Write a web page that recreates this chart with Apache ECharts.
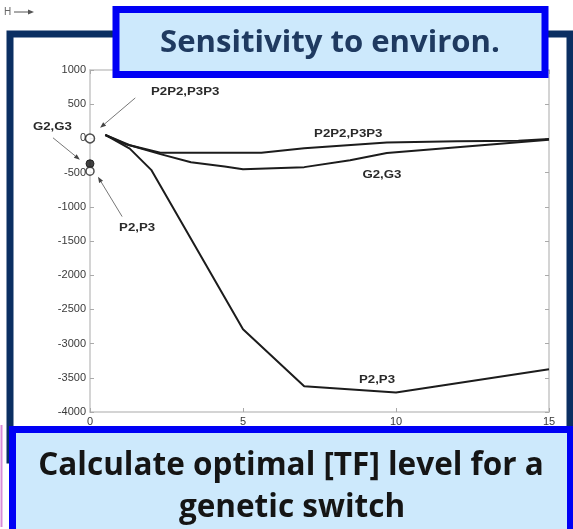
<!DOCTYPE html>
<html><head><meta charset="utf-8">
<script src="https://cdn.jsdelivr.net/npm/echarts@6/dist/echarts.min.js"></script>
<style>html,body{margin:0;padding:0;background:#fff}#c{width:573px;height:529px}</style>
</head><body><div id="c"></div>
<script>
// ---- data ----
const xTicks = [0, 5, 10, 15];
const yTicks = [1000, 500, 0, -500, -1000, -1500, -2000, -2500, -3000, -3500, -4000];

const p2p2X = [0.5, 1.2, 2.3, 5.6, 7, 9.7, 12, 14, 15];
const p2p2Y = [50, -90, -210, -210, -145, -60, -40, -35, -10];

const g2X = [0.5, 1.3, 2.3, 3.3, 4.4, 5, 7, 8.5, 9.7, 11.9, 15];
const g2Y = [50, -100, -230, -350, -410, -450, -420, -320, -215, -133, -20];

const p2X = [0.5, 1.3, 2, 5, 7, 10, 15];
const p2Y = [50, -150, -460, -2790, -3625, -3715, -3375];

const startNames = ['P2P2,P3P3', 'G2,G3', 'P2,P3'];
const startX = [0, 0, 0];
const startY = [0, -370, -480];

const curveLabels = ['P2P2,P3P3', 'G2,G3', 'P2,P3'];
const curveLabelX = [8.44, 9.54, 9.38];
const curveLabelY = [67, -531, -3530];

const noteLabels = ['P2P2,P3P3', 'G2,G3', 'P2,P3'];
const noteTextX = [3.11, -1.23, 1.54];
const noteTextY = [684, 169, -1303];
const noteFromX = [1.48, -1.21, 1.05];
const noteFromY = [592, 9, -1143];
const noteToX = [0.33, -0.33, 0.26];
const noteToY = [155, -312, -560];

const titleText = 'Sensitivity to environ.';
const footLine1 = 'Calculate optimal [TF] level for a';
const footLine2 = 'genetic switch';

// ---- helpers ----
function zip(xs, ys) { return xs.map((x, i) => [x, ys[i]]); }
function fitSize(text, weight, family, target) {
  const c = document.createElement('canvas').getContext('2d');
  c.font = weight + ' 100px ' + family;
  return 100 * target / c.measureText(text).width;
}

const chart = echarts.init(document.getElementById('c'), null, {renderer: 'canvas'});
const axisCol = '#c6c6c6';
const lblStyle = {color: '#3a3a3a', fontSize: 11, fontFamily: 'Liberation Sans, Arial, sans-serif'};
const lineCol = '#1c1c1c';

const option = {
  animation: false,
  backgroundColor: '#ffffff',
  grid: {left: 90, right: 24, top: 70, bottom: 117},
  xAxis: [
    {type: 'value', min: 0, max: 15, interval: 5, position: 'bottom',
     axisLine: {onZero: false, lineStyle: {color: axisCol, width: 1.5}},
     axisTick: {inside: true, length: 4, lineStyle: {color: '#aaa'}},
     axisLabel: Object.assign({margin: 4, formatter: v => xTicks.includes(v) ? String(v) : ''}, lblStyle),
     splitLine: {show: false}},
    {type: 'value', min: 0, max: 15, interval: 5, position: 'top',
     axisLine: {onZero: false, lineStyle: {color: axisCol, width: 1.5}},
     axisTick: {inside: true, length: 4, lineStyle: {color: '#aaa'}},
     axisLabel: {show: false}, splitLine: {show: false}}
  ],
  yAxis: [
    {type: 'value', min: -4000, max: 1000, interval: 500, position: 'left',
     axisLine: {onZero: false, show: true, lineStyle: {color: axisCol, width: 1.5}},
     axisTick: {show: true, inside: true, length: 4, lineStyle: {color: '#aaa'}},
     axisLabel: Object.assign({margin: 4, formatter: v => yTicks.includes(v) ? String(v) : ''}, lblStyle),
     splitLine: {show: false}},
    {type: 'value', min: -4000, max: 1000, interval: 500, position: 'right',
     axisLine: {onZero: false, show: true, lineStyle: {color: axisCol, width: 1.5}},
     axisTick: {show: true, inside: true, length: 4, lineStyle: {color: '#aaa'}},
     axisLabel: {show: false}, splitLine: {show: false}}
  ],
  series: [
    {name: 'P2P2,P3P3', type: 'line', data: zip(p2p2X, p2p2Y), showSymbol: false,
     lineStyle: {color: lineCol, width: 2}, xAxisIndex: 0, yAxisIndex: 0, clip: false},
    {name: 'G2,G3', type: 'line', data: zip(g2X, g2Y), showSymbol: false,
     lineStyle: {color: lineCol, width: 2}, xAxisIndex: 0, yAxisIndex: 0, clip: false},
    {name: 'P2,P3', type: 'line', data: zip(p2X, p2Y), showSymbol: false,
     lineStyle: {color: lineCol, width: 2}, xAxisIndex: 0, yAxisIndex: 0, clip: false},
    {name: 'start', type: 'scatter', clip: false, xAxisIndex: 0, yAxisIndex: 0, z: 5,
     data: [
       {value: [startX[0], startY[0]], symbolSize: 9, itemStyle: {color: '#fff', borderColor: '#222', borderWidth: 1.5}},
       {value: [startX[1], startY[1]], symbolSize: 8, itemStyle: {color: '#111', borderColor: '#111', borderWidth: 1}},
       {value: [startX[2], startY[2]], symbolSize: 8, itemStyle: {color: '#fff', borderColor: '#222', borderWidth: 1.5}}
     ]}
  ]
};
chart.setOption(option);

// ---- decorations & annotations ----
const px = (x, y) => chart.convertToPixel({xAxisIndex: 0, yAxisIndex: 0}, [x, y]);
const fam = "'Open Sans', 'DejaVu Sans', sans-serif";
const titleSize = fitSize(titleText, 'bold', fam, 340);
const footSize = fitSize(footLine1, 'bold', fam, 506);

const g = [];
// faint magenta line at left
g.push({type: 'line', shape: {x1: 1.5, y1: 425, x2: 1.5, y2: 527}, style: {stroke: '#d88ad8', lineWidth: 2}, z: 80});
// H ->
g.push({type: 'text', x: 4, y: 12, style: {text: 'H', fill: '#666', font: '10px Liberation Sans, Arial', verticalAlign: 'middle'}, z: 80});
g.push({type: 'line', shape: {x1: 14, y1: 12, x2: 30, y2: 12}, style: {stroke: '#555', lineWidth: 1}, z: 80});
g.push({type: 'polygon', shape: {points: [[34, 12], [28, 9.5], [28, 14.5]]}, style: {fill: '#555'}, z: 80});
// navy frame
g.push({type: 'rect', shape: {x: 10, y: 34, width: 560, height: 426}, style: {fill: 'none', stroke: '#0b2f62', lineWidth: 7}, z: 90});
// title box
g.push({type: 'rect', shape: {x: 116, y: 9.5, width: 429, height: 65}, style: {fill: '#cde9fc', stroke: '#0000f5', lineWidth: 7}, z: 100});
g.push({type: 'text', x: 330, y: 43, style: {text: titleText, fill: '#1f3a60', font: 'bold ' + titleSize.toFixed(1) + 'px ' + fam, align: 'center', verticalAlign: 'middle'}, z: 101});
// footer box
g.push({type: 'rect', shape: {x: 12.5, y: 429.5, width: 558, height: 110}, style: {fill: '#cde9fc', stroke: '#0000f5', lineWidth: 7}, z: 100});
g.push({type: 'text', x: 291, y: 466, style: {text: footLine1, fill: '#151515', font: 'bold ' + footSize.toFixed(1) + 'px ' + fam, align: 'center', verticalAlign: 'middle'}, z: 101});
g.push({type: 'text', x: 292, y: 508, style: {text: footLine2, fill: '#151515', font: 'bold ' + footSize.toFixed(1) + 'px ' + fam, align: 'center', verticalAlign: 'middle'}, z: 101});

const annFont = "bold 11.5px 'Liberation Sans', Arial, sans-serif";
curveLabels.forEach((t, i) => {
  const p = px(curveLabelX[i], curveLabelY[i]);
  g.push({type: 'text', x: p[0], y: p[1], scaleX: 1.15, style: {text: t, fill: '#2a2a2a', font: annFont, align: 'center', verticalAlign: 'middle'}, z: 60});
});
noteLabels.forEach((t, i) => {
  const p = px(noteTextX[i], noteTextY[i]);
  g.push({type: 'text', x: p[0], y: p[1], scaleX: 1.15, style: {text: t, fill: '#2a2a2a', font: annFont, align: 'center', verticalAlign: 'middle'}, z: 60});
  const a = px(noteFromX[i], noteFromY[i]);
  const b = px(noteToX[i], noteToY[i]);
  const dx = b[0] - a[0], dy = b[1] - a[1], L = Math.hypot(dx, dy), ux = dx / L, uy = dy / L;
  const h = 6, w = 2.3;
  const bx = b[0] - ux * h, by = b[1] - uy * h;
  g.push({type: 'line', shape: {x1: a[0], y1: a[1], x2: bx, y2: by}, style: {stroke: '#777', lineWidth: 1}, z: 60});
  g.push({type: 'polygon', shape: {points: [[b[0], b[1]], [bx - uy * w, by + ux * w], [bx + uy * w, by - ux * w]]}, style: {fill: '#444'}, z: 60});
});
chart.setOption({graphic: g});
</script>
</body></html>
